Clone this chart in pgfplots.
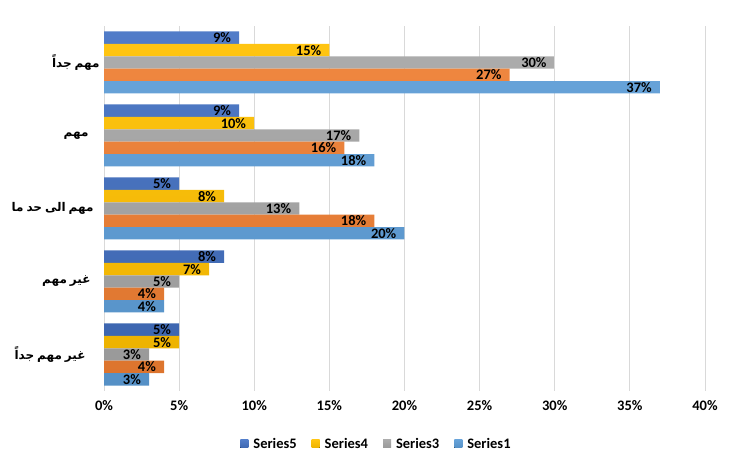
\documentclass[border=0pt]{standalone}
\usepackage{pgfplots}
\pgfplotsset{compat=1.18}
\usepackage{fontspec}
\setmainfont{Carlito}
\newfontfamily\arabicfont[Script=Arabic,WordSpace=0.7]{DejaVu Sans}
\TeXXeTstate=1
\definecolor{sfive}{HTML}{4472C4}
\definecolor{sfour}{HTML}{FFC000}
\definecolor{sthree}{HTML}{A5A5A5}
\definecolor{stwo}{HTML}{ED7D31}
\definecolor{sone}{HTML}{5B9BD5}
\definecolor{gridc}{HTML}{D9D9D9}
\begin{document}
\begin{tikzpicture}[x=1pt,y=1pt]
\path[use as bounding box] (0,0) rectangle (729,466);
\begin{axis}[
  at={(104pt,75pt)}, anchor=south west,
  scale only axis, width=601pt, height=365pt,
  xbar, bar width=12.4pt,
  xmin=0, xmax=40, ymin=-0.5, ymax=4.5,
  xtick={0,5,...,40},
  xticklabel={\pgfmathprintnumber{\tick}\%},
  /pgf/number format/assume math mode=true,
  ytick={0,1,2,3,4},
  yticklabels={{\arabicfont\fontsize{12}{14}\selectfont\bfseries\beginR غير مهم جداً\endR}\kern14pt,
               {\arabicfont\fontsize{12}{14}\selectfont\bfseries\beginR غير مهم\endR}\kern9pt,
               {\arabicfont\fontsize{12}{14}\selectfont\bfseries\beginR مهم الى حد ما\endR}\kern6pt,
               {\arabicfont\fontsize{12}{14}\selectfont\bfseries\beginR مهم\endR}\kern11pt,
               {\arabicfont\fontsize{12}{14}\selectfont\bfseries\beginR مهم جداً\endR}},
  major tick length=0pt,
  xmajorgrids, grid style={gridc, line width=0.8pt},
  axis line style={draw=none},
  ticklabel style={font=\fontsize{14.5}{17}\selectfont\bfseries},
  xticklabel style={yshift=-6pt},
  yticklabel style={xshift=-1pt},
  point meta=x,
  nodes near coords={\pgfmathprintnumber{\pgfplotspointmeta}\%},
  every node near coord/.append style={anchor=east, xshift=-8pt, inner sep=0pt, font=\fontsize{14.5}{17}\selectfont\bfseries, text=black},
  legend style={at={(0.4526,-0.145)}, anchor=center, draw=none, legend columns=-1,
    font=\fontsize{14.5}{17}\selectfont\bfseries,
    /tikz/every even column/.append style={column sep=14pt},
    nodes={inner sep=1pt}},
  legend image code/.code={\fill[#1] (0pt,-4pt) rectangle (8pt,4pt); \path (12pt,0pt);},
]
\addplot[draw=none, top color=sfive!93!white, bottom color=sfive!90!black, bar shift=24.8pt] coordinates {(5,0) (8,1) (5,2) (9,3) (9,4)};
\addplot[draw=none, top color=sfour!93!white, bottom color=sfour!93!black, bar shift=12.4pt] coordinates {(5,0) (7,1) (8,2) (10,3) (15,4)};
\addplot[draw=none, top color=sthree!93!white, bottom color=sthree!93!black, bar shift=0pt] coordinates {(3,0) (5,1) (13,2) (17,3) (30,4)};
\addplot[draw=none, top color=stwo!93!white, bottom color=stwo!93!black, bar shift=-12.4pt, forget plot] coordinates {(4,0) (4,1) (18,2) (16,3) (27,4)};
\addplot[draw=none, top color=sone!93!white, bottom color=sone!93!black, bar shift=-24.8pt] coordinates {(3,0) (4,1) (20,2) (18,3) (37,4)};
\legend{Series5, Series4, Series3, Series1}
\end{axis}
\end{tikzpicture}
\end{document}
